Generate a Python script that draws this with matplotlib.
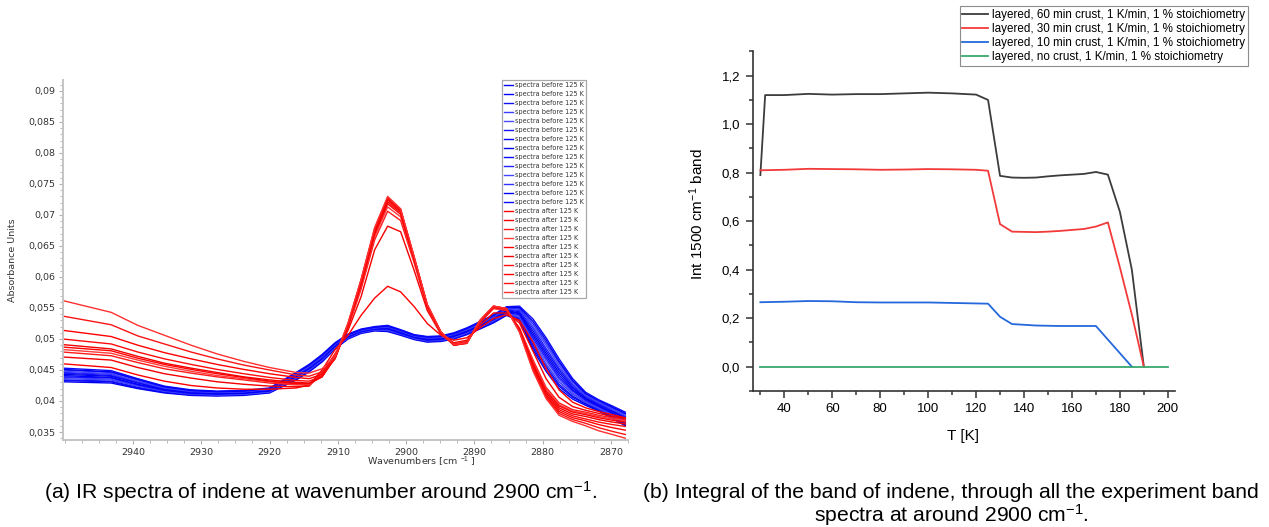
import numpy as np
import matplotlib
matplotlib.use("Agg")
import matplotlib.pyplot as plt
from matplotlib.ticker import MultipleLocator, FixedLocator, FuncFormatter

plt.rcParams["font.family"] = ["Liberation Sans", "DejaVu Sans"]
plt.rcParams["mathtext.fontset"] = "custom"
plt.rcParams["mathtext.rm"] = "Liberation Sans"
plt.rcParams["mathtext.it"] = "Liberation Sans:italic"
plt.rcParams["mathtext.bf"] = "Liberation Sans:bold"

# ── (a) IR spectra: absorbance in milli-units on a shared wavenumber grid ────
wavenumber = [2950.3, 2943.2, 2939.3, 2935.4, 2931.5, 2927.7, 2923.8, 2920.0,
              2916.1, 2914.2, 2912.3, 2910.4, 2908.5, 2906.6, 2904.6, 2902.7,
              2900.8, 2898.8, 2896.9, 2894.9, 2893.0, 2891.1, 2889.2, 2887.2,
              2885.3, 2883.4, 2881.4, 2879.5, 2877.6, 2875.6, 2873.7, 2871.8,
              2869.8, 2867.9]
x_ticks_a = [2940, 2930, 2920, 2910, 2900, 2890, 2880, 2870]

blue_01 = [43.1, 42.9, 42.0, 41.3, 40.9, 40.8, 40.9, 41.3, 43.4, 44.7, 46.3, 48.4, 50.0, 50.9, 51.3, 51.2, 50.6,
           49.9, 49.5, 49.6, 50.0, 50.7, 51.6, 52.6, 53.8, 53.0, 48.2, 44.8, 42.0, 40.3, 39.3, 38.4, 37.2, 36.0]
blue_02 = [43.3, 43.1, 42.1, 41.4, 41.0, 40.9, 41.0, 41.4, 43.5, 44.8, 46.4, 48.5, 50.1, 51.0, 51.4, 51.3, 50.7,
           50.0, 49.6, 49.7, 50.1, 50.8, 51.7, 52.7, 53.9, 53.2, 48.6, 45.2, 42.4, 40.6, 39.5, 38.5, 37.4, 36.2]
blue_03 = [43.4, 43.2, 42.2, 41.5, 41.0, 40.9, 41.0, 41.4, 43.6, 44.9, 46.5, 48.6, 50.1, 51.0, 51.4, 51.4, 50.7,
           50.0, 49.6, 49.7, 50.2, 50.9, 51.8, 52.8, 54.0, 53.4, 49.0, 45.6, 42.7, 40.8, 39.6, 38.7, 37.5, 36.3]
blue_04 = [43.6, 43.4, 42.4, 41.6, 41.1, 41.0, 41.1, 41.5, 43.7, 45.0, 46.6, 48.6, 50.2, 51.1, 51.5, 51.4, 50.8,
           50.1, 49.7, 49.8, 50.2, 51.0, 51.9, 52.9, 54.1, 53.5, 49.4, 46.0, 43.1, 41.1, 39.8, 38.8, 37.7, 36.5]
blue_05 = [43.8, 43.5, 42.5, 41.6, 41.2, 41.0, 41.1, 41.5, 43.8, 45.1, 46.7, 48.7, 50.2, 51.1, 51.5, 51.5, 50.9,
           50.1, 49.8, 49.9, 50.3, 51.0, 52.0, 53.0, 54.2, 53.7, 49.7, 46.5, 43.5, 41.3, 39.9, 39.0, 37.8, 36.7]
blue_06 = [43.9, 43.7, 42.6, 41.7, 41.2, 41.1, 41.2, 41.6, 43.9, 45.2, 46.8, 48.8, 50.3, 51.2, 51.6, 51.6, 50.9,
           50.2, 49.8, 49.9, 50.4, 51.1, 52.1, 53.1, 54.3, 53.9, 50.1, 46.9, 43.8, 41.6, 40.1, 39.1, 38.0, 36.8]
blue_07 = [44.1, 43.8, 42.7, 41.8, 41.3, 41.2, 41.3, 41.7, 44.0, 45.3, 46.9, 48.9, 50.4, 51.2, 51.6, 51.7, 51.0,
           50.3, 49.9, 50.0, 50.5, 51.2, 52.2, 53.2, 54.4, 54.1, 50.5, 47.3, 44.2, 41.8, 40.3, 39.2, 38.1, 37.0]
blue_08 = [44.3, 44.0, 42.9, 41.9, 41.4, 41.2, 41.3, 41.7, 44.0, 45.3, 46.9, 48.9, 50.4, 51.3, 51.7, 51.7, 51.1,
           50.3, 50.0, 50.1, 50.5, 51.3, 52.2, 53.3, 54.6, 54.2, 50.9, 47.7, 44.6, 42.1, 40.4, 39.4, 38.3, 37.2]
blue_09 = [44.5, 44.1, 43.0, 42.0, 41.5, 41.3, 41.4, 41.8, 44.1, 45.4, 47.0, 49.0, 50.5, 51.3, 51.7, 51.8, 51.2,
           50.4, 50.1, 50.2, 50.6, 51.4, 52.3, 53.4, 54.7, 54.4, 51.3, 48.1, 45.0, 42.3, 40.6, 39.5, 38.4, 37.4]
blue_10 = [44.6, 44.3, 43.1, 42.1, 41.5, 41.4, 41.5, 41.9, 44.2, 45.5, 47.1, 49.1, 50.6, 51.4, 51.8, 51.9, 51.2,
           50.5, 50.1, 50.2, 50.7, 51.5, 52.4, 53.5, 54.8, 54.6, 51.7, 48.5, 45.3, 42.6, 40.8, 39.6, 38.6, 37.5]
blue_11 = [44.8, 44.4, 43.2, 42.1, 41.6, 41.4, 41.5, 41.9, 44.3, 45.6, 47.2, 49.2, 50.6, 51.4, 51.8, 52.0, 51.3,
           50.5, 50.2, 50.3, 50.8, 51.5, 52.5, 53.6, 54.9, 54.8, 52.0, 49.0, 45.7, 42.8, 40.9, 39.8, 38.7, 37.7]
blue_12 = [45.0, 44.6, 43.4, 42.2, 41.7, 41.5, 41.6, 42.0, 44.4, 45.7, 47.3, 49.2, 50.7, 51.5, 51.9, 52.0, 51.4,
           50.6, 50.3, 50.4, 50.8, 51.6, 52.6, 53.7, 55.0, 54.9, 52.4, 49.4, 46.1, 43.1, 41.1, 39.9, 38.9, 37.9]
blue_13 = [45.1, 44.7, 43.5, 42.3, 41.7, 41.5, 41.6, 42.0, 44.5, 45.8, 47.4, 49.3, 50.7, 51.5, 51.9, 52.1, 51.4,
           50.6, 50.3, 50.4, 50.9, 51.7, 52.7, 53.8, 55.1, 55.1, 52.8, 49.8, 46.4, 43.3, 41.2, 40.1, 39.0, 38.0]
blue_14 = [45.3, 44.9, 43.6, 42.4, 41.8, 41.6, 41.7, 42.1, 44.6, 45.9, 47.5, 49.4, 50.8, 51.6, 52.0, 52.2, 51.5,
           50.7, 50.4, 50.5, 51.0, 51.8, 52.8, 53.9, 55.2, 55.3, 53.2, 50.2, 46.8, 43.6, 41.4, 40.2, 39.2, 38.2]

red_01 = [46.0, 45.4, 44.2, 43.2, 42.5, 42.1, 41.9, 41.9, 42.1, 42.6, 45.0, 48.3, 50.6, 53.8, 56.6, 58.5, 57.6,
          55.2, 52.5, 50.6, 49.8, 50.2, 51.8, 53.3, 53.9, 53.0, 49.5, 45.2, 41.8, 39.8, 38.9, 38.3, 37.8, 37.3]
red_02 = [47.1, 46.6, 45.4, 44.4, 43.7, 43.1, 42.7, 42.4, 42.3, 42.4, 44.6, 47.6, 51.4, 56.8, 64.4, 68.2, 67.3,
          61.0, 54.6, 50.8, 49.4, 49.8, 52.2, 54.2, 54.2, 52.6, 48.0, 43.6, 40.6, 39.1, 38.5, 38.0, 37.5, 37.2]
red_03 = [47.9, 47.3, 46.2, 45.2, 44.5, 43.9, 43.4, 42.9, 42.6, 42.6, 44.2, 47.5, 51.8, 58.0, 66.0, 70.6, 69.1,
          62.2, 55.0, 50.7, 49.2, 49.6, 52.6, 54.9, 54.6, 51.8, 46.6, 42.2, 39.7, 38.6, 38.2, 37.7, 37.3, 37.0]
red_04 = [48.3, 47.7, 46.6, 45.6, 44.8, 44.1, 43.6, 43.1, 42.7, 42.7, 44.0, 47.3, 52.0, 58.4, 66.5, 71.3, 69.7,
          62.5, 55.2, 50.8, 49.1, 49.5, 52.7, 55.0, 54.7, 51.7, 46.3, 41.9, 39.4, 38.4, 38.0, 37.5, 37.1, 36.8]
red_05 = [48.7, 48.1, 46.9, 45.9, 45.1, 44.4, 43.8, 43.2, 42.8, 42.8, 43.9, 47.1, 52.1, 58.7, 66.9, 71.8, 70.1,
          62.7, 55.3, 50.9, 49.1, 49.5, 52.8, 55.1, 54.8, 51.6, 46.0, 41.6, 39.2, 38.2, 37.8, 37.3, 36.9, 36.6]
red_06 = [49.1, 48.4, 47.2, 46.1, 45.3, 44.6, 43.9, 43.4, 43.0, 42.9, 43.9, 47.0, 52.2, 59.0, 67.2, 72.1, 70.4,
          62.9, 55.4, 51.0, 49.0, 49.4, 52.8, 55.2, 54.8, 51.5, 45.7, 41.3, 38.9, 37.9, 37.5, 37.0, 36.6, 36.3]
red_07 = [50.0, 49.2, 47.9, 46.8, 45.9, 45.1, 44.4, 43.8, 43.3, 43.2, 44.0, 46.9, 52.3, 59.2, 67.4, 72.4, 70.6,
          63.0, 55.4, 51.0, 49.0, 49.4, 52.9, 55.2, 54.9, 51.4, 45.4, 41.0, 38.6, 37.6, 37.1, 36.6, 36.2, 35.9]
red_08 = [51.4, 50.4, 49.0, 47.8, 46.8, 45.9, 45.1, 44.4, 43.8, 43.6, 44.3, 46.8, 52.4, 59.4, 67.6, 72.6, 70.8,
          63.1, 55.5, 51.1, 49.0, 49.3, 52.9, 55.3, 54.9, 51.3, 45.2, 40.8, 38.3, 37.3, 36.8, 36.2, 35.7, 35.3]
red_09 = [53.7, 52.3, 50.5, 49.2, 47.9, 46.8, 45.8, 45.0, 44.2, 44.0, 44.7, 46.9, 52.5, 59.5, 67.8, 72.8, 70.9,
          63.1, 55.5, 51.1, 49.0, 49.3, 53.0, 55.3, 54.9, 51.2, 45.0, 40.6, 38.0, 37.0, 36.4, 35.7, 35.1, 34.6]
red_10 = [56.2, 54.3, 52.2, 50.6, 49.0, 47.6, 46.4, 45.4, 44.6, 44.5, 45.2, 47.2, 52.6, 59.6, 68.0, 73.0, 71.0,
          63.2, 55.6, 51.2, 49.1, 49.4, 53.0, 55.3, 54.9, 51.1, 44.8, 40.4, 37.7, 36.7, 36.0, 35.2, 34.6, 34.0]

blue_spectra = [blue_01, blue_02, blue_03, blue_04, blue_05, blue_06, blue_07,
                blue_08, blue_09, blue_10, blue_11, blue_12, blue_13, blue_14]
red_spectra = [red_01, red_02, red_03, red_04, red_05, red_06, red_07, red_08, red_09, red_10]

# ── (b) integrated band vs temperature ──────────────────────────────────────
temp_60 = [30, 32, 40, 50, 60, 70, 80, 90, 100, 110, 120, 125, 130, 135, 140, 145, 150,
           155, 160, 165, 170, 175, 180, 185, 190]
int_60 = [0.79, 1.12, 1.12, 1.125, 1.122, 1.124, 1.124, 1.127, 1.13, 1.127, 1.122, 1.10,
          0.787, 0.780, 0.779, 0.780, 0.785, 0.789, 0.792, 0.795, 0.803, 0.792, 0.639, 0.40, 0.0]
temp_30 = [30, 40, 50, 60, 70, 80, 90, 100, 110, 120, 125, 130, 135, 140, 145, 150, 155,
           160, 165, 170, 175, 180, 185, 190]
int_30 = [0.81, 0.812, 0.816, 0.815, 0.814, 0.812, 0.813, 0.815, 0.814, 0.812, 0.808, 0.588,
          0.557, 0.556, 0.555, 0.557, 0.560, 0.564, 0.568, 0.578, 0.595, 0.41, 0.215, 0.0]
temp_10 = [30, 40, 50, 60, 70, 80, 90, 100, 110, 120, 125, 130, 135, 140, 145, 150, 155,
           160, 165, 170, 175, 180, 185]
int_10 = [0.266, 0.268, 0.271, 0.270, 0.266, 0.265, 0.265, 0.265, 0.263, 0.261, 0.260, 0.206,
          0.176, 0.173, 0.170, 0.169, 0.168, 0.168, 0.168, 0.168, 0.112, 0.056, 0.0]
temp_00 = [30, 50, 75, 100, 125, 150, 175, 200]
int_00 = [0.0, 0.0, 0.0, 0.0, 0.0, 0.0, 0.0, 0.0]

series_b = [
    (temp_60, int_60, "layered, 60 min crust, 1 K/min, 1 % stoichiometry", "#3c3c3c"),
    (temp_30, int_30, "layered, 30 min crust, 1 K/min, 1 % stoichiometry", "#f23a3a"),
    (temp_10, int_10, "layered, 10 min crust, 1 K/min, 1 % stoichiometry", "#2468dc"),
    (temp_00, int_00, "layered, no crust, 1 K/min, 1 % stoichiometry", "#3aa86c"),
]

blue_colors = ["#0000ee", "#0000ff", "#1010f0", "#3c3cff", "#4a4aff", "#1414ff", "#0000ff",
               "#0000e6", "#0a0aff", "#2020ff", "#4646ff", "#3030ff", "#0000f0", "#0808ff"]
red_colors = ["#ff0000", "#f50000", "#ff1a1a", "#ff3c3c", "#ff0000", "#f00000", "#ff0a0a",
              "#ff0000", "#fa1414", "#ff3030"]

W, H = 1269, 527
fig = plt.figure(figsize=(W / 100, H / 100), dpi=100)

# ── Panel (a) ───────────────────────────────────────────────────────────────
ax = fig.add_axes([63 / W, 1 - 440 / H, (628 - 63) / W, (440 - 80) / H])
wn = np.array(wavenumber)
for vals, c in zip(blue_spectra, blue_colors):
    ax.plot(wn, np.array(vals) / 1000, color=c, lw=1.0, label="spectra before 125 K")
for vals, c in zip(red_spectra, red_colors):
    ax.plot(wn, np.array(vals) / 1000, color=c, lw=1.0, label="spectra after 125 K")

ax.set_xlim(2950.25, 2867.5)
ax.set_ylim(0.03371, 0.09177)
ax.xaxis.set_major_locator(FixedLocator(x_ticks_a))
ax.xaxis.set_minor_locator(MultipleLocator(2.5))
ax.yaxis.set_major_locator(MultipleLocator(0.005))
ax.yaxis.set_minor_locator(MultipleLocator(0.001))
ax.yaxis.set_major_formatter(FuncFormatter(
    lambda v, _: f"{v:.3f}".rstrip("0").replace(".", ",")))
for side in ("top", "right"):
    ax.spines[side].set_visible(False)
for side in ("left", "bottom"):
    ax.spines[side].set_color("#c4c4c4")
    ax.spines[side].set_linewidth(1.4)
ax.tick_params(which="both", direction="out", color="#b0b0b0", labelcolor="#333333",
               labelsize=6.8, labelfontfamily="DejaVu Sans")
ax.tick_params(which="major", length=3, width=0.8, pad=2.5)
ax.tick_params(which="minor", length=2, width=0.6)
ax.set_ylabel("Absorbance Units", fontsize=6.8, color="#333333", family="DejaVu Sans")
ax.yaxis.set_label_coords(-0.081, 0.5)
ax.text(0.634, -0.061, "Wavenumbers [cm $^{-1}$ ]", transform=ax.transAxes,
        ha="center", va="center", fontsize=6.8, color="#333333", family="DejaVu Sans")

leg = ax.legend(loc="upper left", bbox_to_anchor=(502 / W, 1 - 80 / H),
                bbox_transform=fig.transFigure, borderaxespad=0,
                prop={"family": "DejaVu Sans", "size": 4.7}, labelcolor="#333333",
                handlelength=1.3, handletextpad=0.35, labelspacing=0.46,
                borderpad=0.35, fancybox=False, framealpha=1)
leg.get_frame().set_edgecolor("#a8a8a8")
leg.get_frame().set_linewidth(0.9)

# ── Panel (b) ───────────────────────────────────────────────────────────────
ax = fig.add_axes([752.7 / W, 1 - 391 / H, (1175 - 752.7) / W, (391 - 50.7) / H])
for t, v, lab, c in series_b:
    ax.plot(t, v, color=c, lw=1.3, label=lab)
ax.set_xlim(26.8, 203)
ax.set_ylim(-0.1, 1.303)
ax.xaxis.set_major_locator(MultipleLocator(20))
ax.xaxis.set_minor_locator(MultipleLocator(10))
ax.yaxis.set_major_locator(MultipleLocator(0.2))
ax.yaxis.set_minor_locator(MultipleLocator(0.1))
ax.yaxis.set_major_formatter(FuncFormatter(lambda v, _: f"{v:.1f}".replace(".", ",")))
for side in ("top", "right"):
    ax.spines[side].set_visible(False)
for side in ("left", "bottom"):
    ax.spines[side].set_color("#333333")
    ax.spines[side].set_linewidth(1.2)
ax.tick_params(which="both", direction="out", color="#333333", labelsize=9.5, width=1.1)
ax.tick_params(which="major", length=5, pad=4)
ax.tick_params(which="minor", length=3)
ax.text(-0.132, 0.52, "Int 1500 cm$^{-1}$ band", transform=ax.transAxes, rotation=90,
        ha="center", va="center", fontsize=11)
ax.text(0.498, -0.131, "T [K]", transform=ax.transAxes, ha="center", va="center", fontsize=11)

leg = ax.legend(loc="upper right", bbox_to_anchor=(1247.7 / W, 1 - 6 / H),
                bbox_transform=fig.transFigure, borderaxespad=0, fontsize=8.4,
                handlelength=2.2, handletextpad=0.3, labelspacing=0.18,
                borderpad=0.25, fancybox=False, framealpha=1)
leg.get_frame().set_edgecolor("#8c8c8c")
leg.get_frame().set_linewidth(0.8)

# ── Captions ───────────────────────────────────────────────────────────────
fig.text(321 / W, 1 - 492 / H, "(a) IR spectra of indene at wavenumber around 2900 cm$^{-1}$.",
         ha="center", va="center", fontsize=15.2)
fig.text(951 / W, 1 - 492 / H,
         "(b) Integral of the band of indene, through all the experiment band",
         ha="center", va="center", fontsize=15.2)
fig.text(951 / W, 1 - 515 / H, "spectra at around 2900 cm$^{-1}$.",
         ha="center", va="center", fontsize=15.2)

fig.savefig("out.png", dpi=100)
